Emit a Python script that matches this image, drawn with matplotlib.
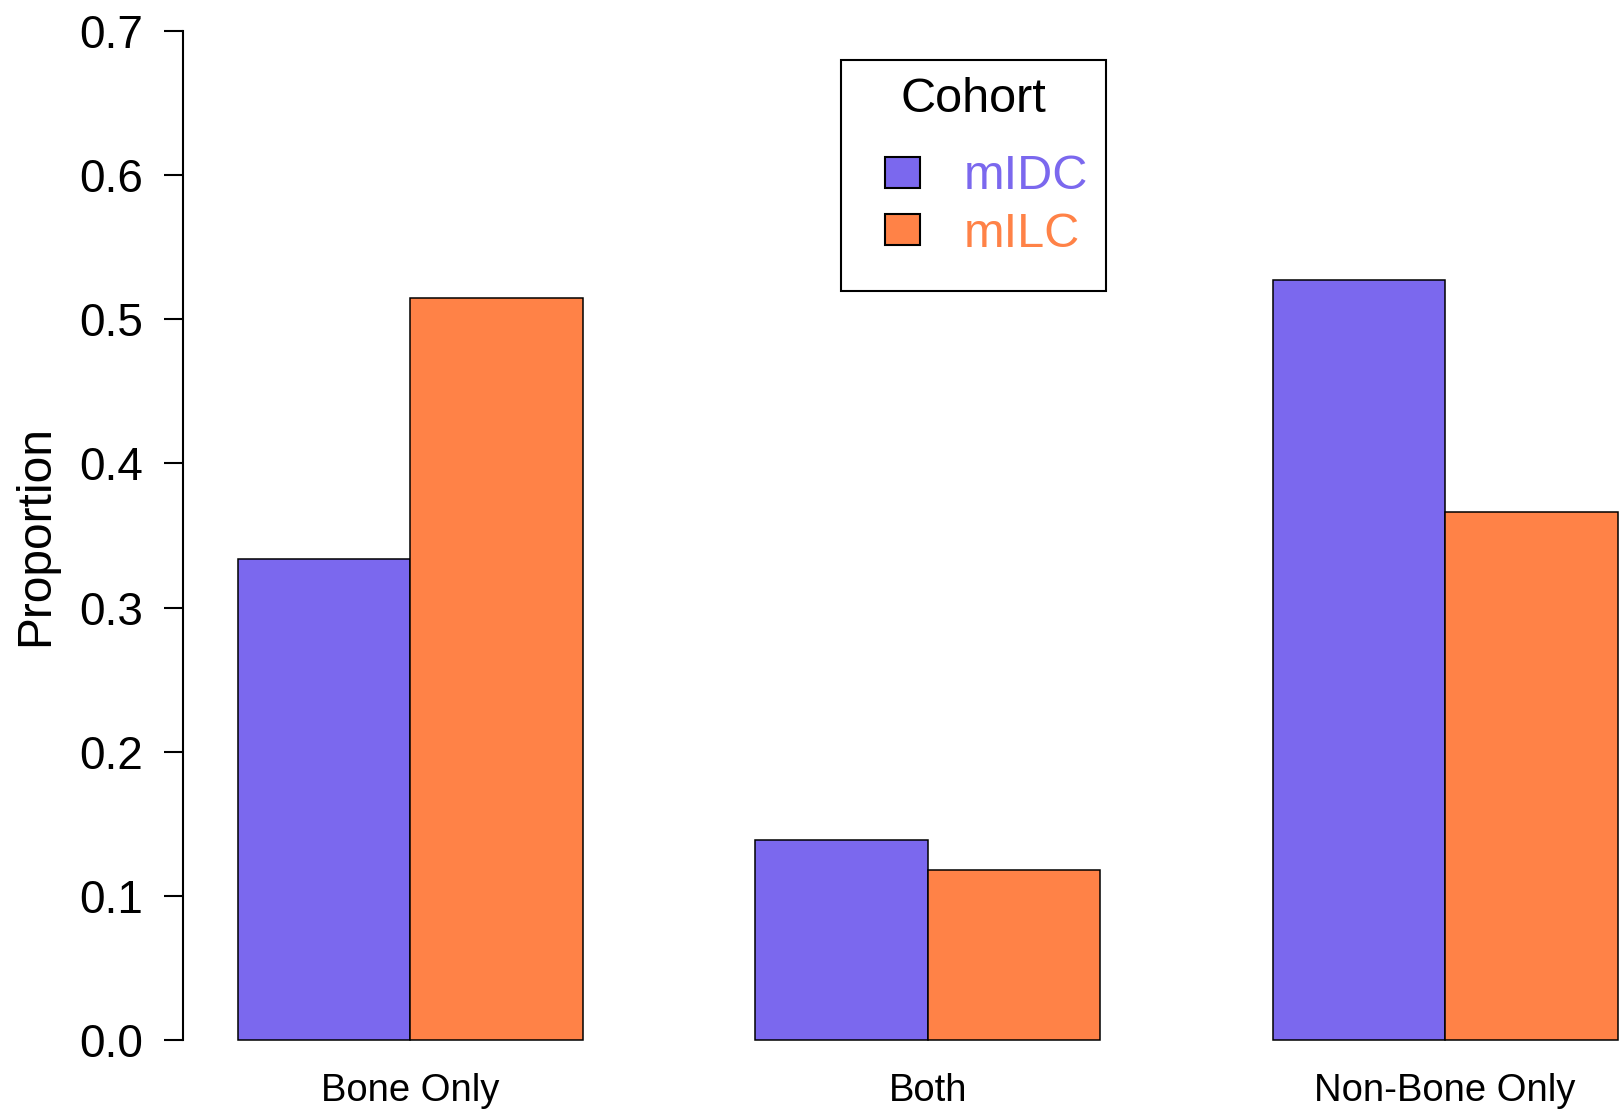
import numpy as np
import matplotlib
matplotlib.use('Agg')
import matplotlib.pyplot as plt
from matplotlib.patches import Patch, Rectangle
from matplotlib.legend_handler import HandlerPatch
from matplotlib.offsetbox import DrawingArea

plt.rcParams['font.family'] = ['Liberation Sans', 'DejaVu Sans']

# values
categories = ['Bone Only', 'Both', 'Non-Bone Only']
cohorts = ['mIDC', 'mILC']
midc = [0.334, 0.139, 0.527]
milc = [0.515, 0.118, 0.366]
colors = ['#7B68EE', '#FF8247']
yticks = [0.0, 0.1, 0.2, 0.3, 0.4, 0.5, 0.6, 0.7]

W, H = 1623, 1112
fig = plt.figure(figsize=(W / 100, H / 100), dpi=100)
# R style barplot: groups of two bars, one unit gap between groups
ax = fig.add_axes([182.8 / W, (H - 1040) / H, 1490 / W, 1009 / H])

idx = np.arange(len(categories))
left = 1 + 3 * idx
for k, (vals, col) in enumerate(zip([midc, milc], colors)):
  ax.bar(left + k + 0.5, vals, width=1.0, color=col, edgecolor='black',
         linewidth=1.1, clip_on=False)

ax.set_xlim(0.68, 9.32)
ax.set_ylim(0, 0.7)

ax.set_xticks(left + 1)
ax.set_xticklabels(categories, fontsize=27.5)
ax.tick_params(axis='x', length=0, pad=24)

ax.set_yticks(yticks)
ax.set_yticklabels(['%.1f' % v for v in yticks], fontsize=33)
ax.tick_params(axis='y', length=13.7, width=1.5, pad=15)
ax.set_ylabel('Proportion', fontsize=34.5, labelpad=15)

for s in ['top', 'right', 'bottom']:
  ax.spines[s].set_visible(False)
ax.spines['left'].set_linewidth(1.5)
ax.spines['left'].set_bounds(0, 0.7)

# legend key: small square pushed to the right end of the handle box (R style)
def right_square(legend, orig_handle, xdescent, ydescent, width, height, fontsize):
  side = 0.72 * fontsize
  return Rectangle((width - side - xdescent, -ydescent), side, height)

handles = [Patch(facecolor=c, edgecolor='black', linewidth=1.5) for c in colors]
leg = ax.legend(handles, cohorts, title='Cohort', loc='upper left',
                bbox_to_anchor=(841 / W, 1 - 60 / H), bbox_transform=fig.transFigure,
                fontsize=35, title_fontsize=35, fancybox=False, frameon=True,
                edgecolor='black', framealpha=1, borderpad=0.355, borderaxespad=0,
                handlelength=1.277, handleheight=0.6, handletextpad=0.9,
                labelspacing=0.254,
                handler_map={Patch: HandlerPatch(patch_func=right_square)})
leg.get_frame().set_linewidth(1.5)
# wider gap under the title, bit of extra room at the bottom
leg._legend_box.sep = 23.1
leg._legend_box.get_children().append(DrawingArea(0, -10.5))
for t, c in zip(leg.get_texts(), colors):
  t.set_color(c)

fig.savefig('out.png', dpi=100)
